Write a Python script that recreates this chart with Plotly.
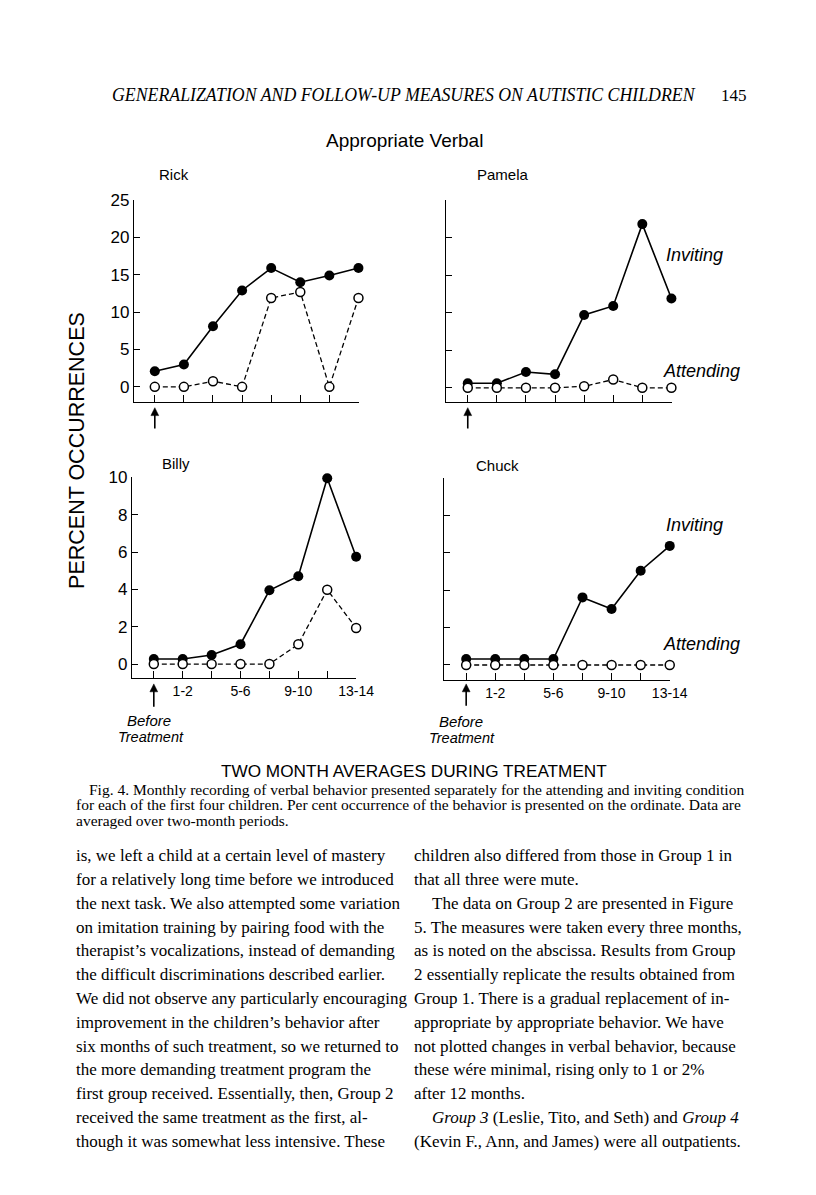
import plotly.graph_objects as go

W, H = 816, 1195

# ---------------- data ----------------
periods = [0, 1, 2, 3, 4, 5, 6, 7]          # 0 = before treatment, then two-month periods
xtick_text = ["", "1-2", "", "5-6", "", "9-10", "", "13-14"]

rick_inviting = [2.1, 3.0, 8.1, 12.9, 15.9, 14.0, 14.9, 15.9]
rick_attending = [0, 0, 0.75, 0, 11.9, 12.7, 0, 11.9]
pamela_inviting = [0.6, 0.6, 2.1, 1.8, 9.7, 10.9, 21.8, 11.9]
pamela_attending = [0, 0, 0, 0, 0.2, 1.1, 0, 0]
billy_inviting = [0.27, 0.27, 0.48, 1.06, 3.95, 4.7, 9.95, 5.75]
billy_attending = [0, 0, 0, 0, 0, 1.06, 3.98, 1.93]
chuck_inviting = [0.32, 0.32, 0.32, 0.32, 3.62, 3.0, 5.05, 6.38]
chuck_attending = [0, 0, 0, 0, 0, 0, 0, 0]

top_yticks = [0, 5, 10, 15, 20, 25]
bottom_yticks = [0, 2, 4, 6, 8, 10]

header_text = "GENERALIZATION AND FOLLOW-UP MEASURES ON AUTISTIC CHILDREN"
page_number = "145"
chart_title = "Appropriate Verbal"
ytitle = "PERCENT OCCURRENCES"
xtitle = "TWO MONTH AVERAGES DURING TREATMENT"
caption_lines = [
    "Fig. 4. Monthly recording of verbal behavior presented separately for the attending and inviting condition",
    "for each of the first four children. Per cent occurrence of the behavior is presented on the ordinate. Data are",
    "averaged over two-month periods.",
]
left_col = [
    "is, we left a child at a certain level of mastery",
    "for a relatively long time before we introduced",
    "the next task. We also attempted some variation",
    "on imitation training by pairing food with the",
    "therapist\u2019s vocalizations, instead of demanding",
    "the difficult discriminations described earlier.",
    "We did not observe any particularly encouraging",
    "improvement in the children\u2019s behavior after",
    "six months of such treatment, so we returned to",
    "the more demanding treatment program the",
    "first group received. Essentially, then, Group 2",
    "received the same treatment as the first, al-",
    "though it was somewhat less intensive. These",
]
right_col = [
    "children also differed from those in Group 1 in",
    "that all three were mute.",
    "The data on Group 2 are presented in Figure",
    "5. The measures were taken every three months,",
    "as is noted on the abscissa. Results from Group",
    "2 essentially replicate the results obtained from",
    "Group 1. There is a gradual replacement of in-",
    "appropriate by appropriate behavior. We have",
    "not plotted changes in verbal behavior, because",
    "these w\u00e9re minimal, rising only to 1 or 2%",
    "after 12 months.",
    "<i>Group 3</i> (Leslie, Tito, and Seth) and <i>Group 4</i>",
    "(Kevin F., Ann, and James) were all outpatients.",
]
right_indent = [False, False, True, False, False, False, False, False, False, False, False, True, False]


def fx(x):
    return x / W


def fy(y):
    return 1 - y / H


SANS = "Liberation Sans"
SERIF = "Liberation Serif"

# panel geometry (pixels) and axis ranges
panels = [
    dict(name="Rick", xa="x", ya="y", xd=(137, 366.7), yd=(192.3, 396), xr=[-0.716, 7.005], yr=[-2.03, 25.03],
         inv=rick_inviting, att=rick_attending, yt=top_yticks, ylab=True, xlab=False,
         title_xy=(178, 167), arrow=(401.7, 422.7)),
    dict(name="Pamela", xa="x2", ya="y2", xd=(456, 686.7), yd=(192.3, 396), xr=[-0.75, 7.005], yr=[-1.89, 25.03],
         inv=pamela_inviting, att=pamela_attending, yt=top_yticks, ylab=False, xlab=False,
         title_xy=(514, 167), arrow=(401.7, 422.7)),
    dict(name="Billy", xa="x3", ya="y3", xd=(135, 364.3), yd=(471.7, 674.3), xr=[-0.754, 7.005], yr=[-0.76, 10.01],
         inv=billy_inviting, att=billy_attending, yt=bottom_yticks, ylab=True, xlab=True,
         title_xy=(180, 458), arrow=(680, 703)),
    dict(name="Chuck", xa="x4", ya="y4", xd=(454.3, 685), yd=(472.7, 676), xr=[-0.753, 7.005], yr=[-0.8, 10.01],
         inv=chuck_inviting, att=chuck_attending, yt=bottom_yticks, ylab=False, xlab=True,
         title_xy=(509, 460), arrow=(680, 702)),
]

fig = go.Figure()
layout = dict(
    width=W, height=H, margin=dict(l=0, r=0, t=0, b=0),
    paper_bgcolor="white", plot_bgcolor="white", showlegend=False,
    font=dict(family=SANS, color="black"),
)
annotations = []
shapes = []

for p in panels:
    fig.add_trace(go.Scatter(
        x=periods, y=p["inv"], xaxis=p["xa"], yaxis=p["ya"], mode="lines+markers",
        line=dict(color="black", width=1.6),
        marker=dict(symbol="circle", size=10, color="black"),
        cliponaxis=False, name="Inviting"))
    fig.add_trace(go.Scatter(
        x=periods, y=p["att"], xaxis=p["xa"], yaxis=p["ya"], mode="lines+markers",
        line=dict(color="black", width=1.3, dash="5px,3px"),
        marker=dict(symbol="circle", size=9, color="white", line=dict(color="black", width=1.5)),
        cliponaxis=False, name="Attending"))

    xkey = "xaxis" + p["xa"][1:]
    ykey = "yaxis" + p["ya"][1:]
    layout[xkey] = dict(
        domain=[fx(p["xd"][0]), fx(p["xd"][1])], range=p["xr"], anchor=p["ya"],
        showline=True, linecolor="black", linewidth=1.4, mirror=False,
        ticks="inside", ticklen=7, tickwidth=1.4, tickcolor="black",
        tickvals=periods, ticktext=xtick_text, showticklabels=p["xlab"],
        tickfont=dict(family=SANS, size=14, color="black"),
        showgrid=False, zeroline=False, fixedrange=True)
    layout[ykey] = dict(
        domain=[fy(p["yd"][1]), fy(p["yd"][0])], range=p["yr"], anchor=p["xa"],
        showline=True, linecolor="black", linewidth=1.4, mirror=False,
        ticks="inside", ticklen=6, tickwidth=1.4, tickcolor="black",
        tickvals=p["yt"], showticklabels=p["ylab"],
        tickfont=dict(family=SANS, size=17, color="black"),
        showgrid=False, zeroline=False, fixedrange=True)

    annotations.append(dict(x=fx(p["title_xy"][0]), y=fy(p["title_xy"][1]), xref="paper", yref="paper",
                            text=p["name"], showarrow=False, xanchor="center", yanchor="middle",
                            font=dict(family=SANS, size=15, color="black")))
    tip, tail = p["arrow"]
    shapes.append(dict(type="line", xref=p["xa"], yref="paper", x0=0, x1=0,
                       y0=fy(tail), y1=fy(tip + 6), line=dict(color="black", width=1.6)))
    hw = 4.0 / ((p["xd"][1] - p["xd"][0]) / (p["xr"][1] - p["xr"][0]))
    shapes.append(dict(type="path", xref=p["xa"], yref="paper",
                       path=f"M {-hw},{fy(tip + 8)} L 0,{fy(tip)} L {hw},{fy(tip + 8)} Z",
                       fillcolor="black", line=dict(color="black", width=0.5)))


def txt(x, y, s, size, family=SANS, xanchor="center", angle=0):
    annotations.append(dict(x=fx(x), y=fy(y), xref="paper", yref="paper", text=s, showarrow=False,
                            xanchor=xanchor, yanchor="middle", textangle=angle,
                            font=dict(family=family, size=size, color="black")))


txt(112, 87, "<i>" + header_text + "</i>", 17.8, SERIF, "left")
txt(766, 87, page_number, 17, SERIF, "right")
txt(414, 132, chart_title, 19)
txt(78, 445, ytitle, 21.5, angle=-90)
txt(710, 248, "<i>Inviting</i>", 18)
txt(717, 365, "<i>Attending</i>", 18)
txt(710, 520, "<i>Inviting</i>", 18)
txt(717, 640, "<i>Attending</i>", 18)
txt(152, 717, "<i>Before</i>", 15)
txt(154, 734, "<i>Treatment</i>", 14.5)
txt(471, 718, "<i>Before</i>", 15)
txt(472, 735, "<i>Treatment</i>", 14.5)
txt(423, 768, xtitle, 17.2)
for i, line in enumerate(caption_lines):
    txt(89 if i == 0 else 76, 786 + 16 * i, line, 15.5, SERIF, "left")
for i, line in enumerate(left_col):
    txt(76, 853 + 24 * i, line, 17, SERIF, "left")
for i, line in enumerate(right_col):
    txt(440 if right_indent[i] else 421, 853 + 24 * i, line, 17, SERIF, "left")

layout["annotations"] = annotations
layout["shapes"] = shapes
fig.update_layout(**layout)
fig.write_html(
    "out.html",
    config={"displayModeBar": False},
    post_script="document.body.style.margin='0';document.body.style.padding='0';"
                "document.documentElement.style.overflow='hidden';",
)
